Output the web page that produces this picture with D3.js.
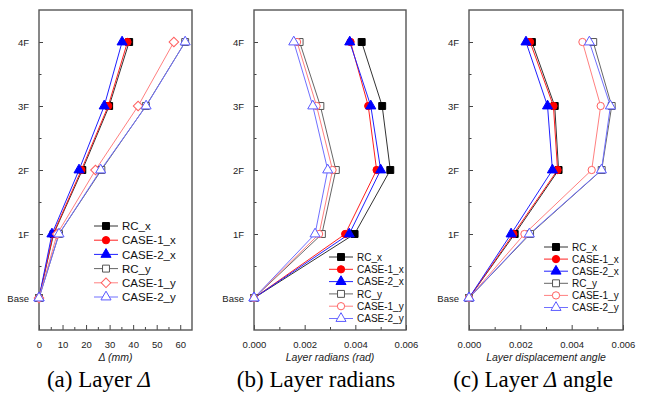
<!DOCTYPE html>
<html>
<head>
<meta charset="utf-8">
<script src="https://cdn.jsdelivr.net/npm/d3@7"></script>
<style>
  html, body { margin: 0; padding: 0; background: #fff; }
  svg { display: block; }
</style>
</head>
<body>
<svg id="chart" width="645" height="394"></svg>
<script>
// ---------- DATA ----------
const levels = ["Base", "1F", "2F", "3F", "4F"];
const seriesNames = ["RC_x", "CASE-1_x", "CASE-2_x", "RC_y", "CASE-1_y", "CASE-2_y"];

// (a) Layer displacement Δ (mm)
const deltaRCx    = [0, 6.2, 18.4, 29.8, 38.3];
const deltaCase1x = [0, 6.0, 18.0, 29.4, 37.6];
const deltaCase2x = [0, 5.5, 17.0, 27.7, 35.3];
const deltaRCy    = [0, 8.5, 26.5, 45.4, 62.1];
const deltaCase1y = [0, 7.7, 24.0, 42.1, 57.3];
const deltaCase2y = [0, 8.5, 26.2, 45.5, 62.1];
const deltaTicks  = [0, 10, 20, 30, 40, 50, 60];

// (b) Layer radians (rad)
const radRCx    = [0, 0.00397, 0.00538, 0.00506, 0.00425];
const radCase1x = [0, 0.00360, 0.00484, 0.00451, 0.00381];
const radCase2x = [0, 0.00376, 0.00500, 0.00461, 0.00378];
const radRCy    = [0, 0.00268, 0.00323, 0.00262, 0.00180];
const radCase1y = [0, 0.00257, 0.00310, 0.00247, 0.00170];
const radCase2y = [0, 0.00241, 0.00291, 0.00232, 0.00157];
const radTicks  = [0, 0.002, 0.004, 0.006];

// (c) Layer displacement angle
const angRCx    = [0, 0.00178, 0.00349, 0.00334, 0.00245];
const angCase1x = [0, 0.00173, 0.00345, 0.00329, 0.00238];
const angCase2x = [0, 0.00164, 0.00325, 0.00306, 0.00222];
const angRCy    = [0, 0.00238, 0.00517, 0.00556, 0.00484];
const angCase1y = [0, 0.00216, 0.00478, 0.00513, 0.00442];
const angCase2y = [0, 0.00235, 0.00516, 0.00551, 0.00469];
const angTicks  = [0, 0.002, 0.004, 0.006];

// ---------- STYLES ----------
const styles = [
  { line: "#333333", stroke: "#000000", fill: "#000000", sym: "square" },
  { line: "#ff2020", stroke: "#ff0000", fill: "#ff0000", sym: "circle" },
  { line: "#2020ff", stroke: "#0000ff", fill: "#0000ff", sym: "triangle" },
  { line: "#666666", stroke: "#555555", fill: "#ffffff", sym: "square" },
  { line: "#ff8080", stroke: "#ff6060", fill: "#ffffff", sym: "circle" },
  { line: "#7070ff", stroke: "#5a5aff", fill: "#ffffff", sym: "triangle" }
];

const svg = d3.select("#chart");

function symbolPath(kind) {
  if (kind === "square") return d3.symbol(d3.symbolSquare, 48)();
  if (kind === "circle") return d3.symbol(d3.symbolCircle, 42)();
  if (kind === "triangle") return d3.symbol(d3.symbolTriangle, 44)();
  if (kind === "diamond") return d3.symbol(d3.symbolSquare, 46)();
  return d3.symbol(d3.symbolCircle, 42)();
}

function drawPanel(cfg) {
  const g = svg.append("g");
  const x = d3.scaleLinear().domain(cfg.xDomain).range([cfg.left, cfg.right]);
  const y = d3.scaleLinear().domain([-0.5, 4.5]).range([330, 10]);

  // bottom axis (ticks inward)
  const bottom = g.append("g").attr("transform", "translate(0,330)");
  bottom.call(d3.axisBottom(x).tickValues(cfg.ticks).tickSize(-5).tickPadding(11)
      .tickFormat(cfg.fmt));
  bottom.select(".domain").remove();
  bottom.selectAll("line").attr("stroke", "#444").attr("stroke-width", 1);
  bottom.selectAll("text").attr("font-family", "Liberation Sans, Arial, sans-serif")
      .attr("font-size", 9.5).attr("fill", "#222");
  // minor x ticks
  const minor = [];
  for (let i = 0; i < cfg.ticks.length - 1; i++) minor.push((cfg.ticks[i] + cfg.ticks[i + 1]) / 2);
  const bminor = g.append("g").attr("transform", "translate(0,330)");
  bminor.call(d3.axisBottom(x).tickValues(minor).tickSize(-3).tickFormat(""));
  bminor.select(".domain").remove();
  bminor.selectAll("line").attr("stroke", "#444");

  // left axis (ticks inward)
  const left = g.append("g").attr("transform", `translate(${cfg.left},0)`);
  left.call(d3.axisLeft(y).tickValues([0, 1, 2, 3, 4]).tickSize(-4).tickPadding(10)
      .tickFormat(d => levels[d]));
  left.select(".domain").remove();
  left.selectAll("line").attr("stroke", "#444");
  left.selectAll("text").attr("font-family", "Liberation Sans, Arial, sans-serif")
      .attr("font-size", 9.5).attr("fill", "#222");
  const lminor = g.append("g").attr("transform", `translate(${cfg.left},0)`);
  lminor.call(d3.axisLeft(y).tickValues([0.5, 1.5, 2.5, 3.5]).tickSize(-2.5).tickFormat(""));
  lminor.select(".domain").remove();
  lminor.selectAll("line").attr("stroke", "#444");

  // frame
  g.append("rect")
    .attr("x", cfg.left).attr("y", 10)
    .attr("width", cfg.right - cfg.left).attr("height", 320)
    .attr("fill", "none").attr("stroke", "#555").attr("stroke-width", 1.4);

  // series
  const line = d3.line().x(d => x(d.v)).y(d => y(d.i));
  cfg.series.forEach((vals, k) => {
    const st = styles[k];
    const pts = vals.map((v, i) => ({ v, i }));
    g.append("path").datum(pts).attr("d", line)
      .attr("fill", "none").attr("stroke", st.line).attr("stroke-width", 1);
  });
  cfg.series.forEach((vals, k) => {
    const st = styles[k];
    const kind = (k === 4 && cfg.diamond) ? "diamond" : st.sym;
    g.selectAll(null).data(vals.map((v, i) => ({ v, i }))).enter()
      .append("path")
      .attr("d", symbolPath(kind))
      .attr("transform", d => `translate(${x(d.v)},${y(d.i)})` + (kind === "diamond" ? " rotate(45)" : ""))
      .attr("fill", st.fill).attr("stroke", st.stroke).attr("stroke-width", 1);
  });

  // legend
  const lg = g.append("g");
  seriesNames.forEach((name, k) => {
    const st = styles[k];
    const ly = cfg.legY + k * cfg.legStep;
    const kind = (k === 4 && cfg.diamond) ? "diamond" : st.sym;
    lg.append("line").attr("x1", cfg.legX).attr("x2", cfg.legX + 24)
      .attr("y1", ly).attr("y2", ly).attr("stroke", st.line).attr("stroke-width", 1);
    lg.append("path").attr("d", symbolPath(kind))
      .attr("transform", `translate(${cfg.legX + 12},${ly})` + (kind === "diamond" ? " rotate(45)" : ""))
      .attr("fill", st.fill).attr("stroke", st.stroke).attr("stroke-width", 1);
    lg.append("text").attr("x", cfg.legX + 28).attr("y", ly).attr("dy", "0.36em")
      .attr("font-family", "Liberation Sans, Arial, sans-serif")
      .attr("font-size", cfg.legFont).attr("fill", "#111").text(name);
  });

  // axis title
  g.append("text").attr("x", (cfg.left + cfg.right) / 2).attr("y", 361)
    .attr("text-anchor", "middle")
    .attr("font-family", "Liberation Sans, Arial, sans-serif")
    .attr("font-style", "italic").attr("font-size", 10.5).attr("fill", "#222")
    .text(cfg.title);

  // caption
  g.append("text").attr("x", cfg.capX).attr("y", 387)
    .attr("text-anchor", "middle")
    .attr("font-family", "Liberation Serif, Times New Roman, serif")
    .attr("font-size", 23).attr("fill", "#000")
    .call(t => {
      t.append("tspan").text(cfg.caption[0]);
      if (cfg.caption[1]) t.append("tspan").attr("font-style", "italic").text(cfg.caption[1]);
      if (cfg.caption[2]) t.append("tspan").text(cfg.caption[2]);
    });
}

drawPanel({
  left: 39, right: 192, xDomain: [0, 65], ticks: deltaTicks,
  fmt: d3.format("d"),
  series: [deltaRCx, deltaCase1x, deltaCase2x, deltaRCy, deltaCase1y, deltaCase2y],
  diamond: true,
  legX: 94, legY: 226, legStep: 14.2, legFont: 11.5,
  title: "Δ (mm)",
  capX: 99, caption: ["(a) Layer ", "Δ", ""]
});

drawPanel({
  left: 254, right: 406, xDomain: [0, 0.006], ticks: radTicks,
  fmt: d3.format(".3f"),
  series: [radRCx, radCase1x, radCase2x, radRCy, radCase1y, radCase2y],
  diamond: false,
  legX: 329, legY: 257, legStep: 12.3, legFont: 10,
  title: "Layer radians (rad)",
  capX: 316, caption: ["(b) Layer radians"]
});

drawPanel({
  left: 469, right: 623, xDomain: [0, 0.006], ticks: angTicks,
  fmt: d3.format(".3f"),
  series: [angRCx, angCase1x, angCase2x, angRCy, angCase1y, angCase2y],
  diamond: false,
  legX: 544, legY: 247, legStep: 12.1, legFont: 10,
  title: "Layer displacement angle",
  capX: 533, caption: ["(c) Layer ", "Δ", " angle"]
});
</script>
</body>
</html>
